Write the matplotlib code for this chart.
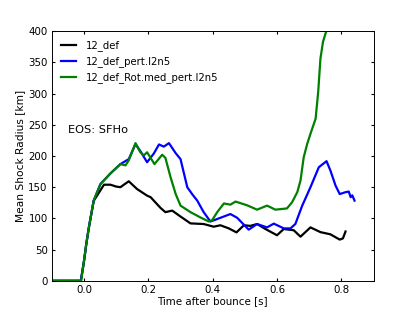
import matplotlib
matplotlib.use("Agg")
import matplotlib.pyplot as plt

plt.rcParams.update({
    "font.family": "DejaVu Sans",
    "font.size": 7.4,
    "xtick.direction": "in",
    "ytick.direction": "in",
    "xtick.top": True,
    "ytick.right": True,
    "xtick.major.size": 2.2,
    "ytick.major.size": 2.2,
    "xtick.major.pad": 3,
    "ytick.major.pad": 3,
    "axes.linewidth": 0.7,
})

# ─── Data ──────────────────────────────────────────────────────────────────────

t_def = [-0.10, -0.01, 0.000, 0.007, 0.015, 0.030, 0.051, 0.062, 0.082, 0.100,
         0.113, 0.139, 0.165, 0.196, 0.207, 0.238, 0.253, 0.274, 0.300, 0.331,
         0.372, 0.403, 0.424, 0.450, 0.474, 0.497, 0.517, 0.538, 0.564, 0.600,
         0.621, 0.652, 0.673, 0.704, 0.735, 0.766, 0.795, 0.805, 0.813]
r_def = [0, 0, 32, 59, 85, 128, 145, 154, 154, 151,
         150, 159.5, 147, 136.5, 134, 116.7, 110, 112.5, 103, 92,
         91, 86.7, 89, 84, 77.6, 89, 88, 91, 83, 73,
         83, 81, 70.7, 85.6, 78, 74.5, 66, 68, 79]

t_pert = [-0.10, -0.01, 0.000, 0.007, 0.015, 0.030, 0.051, 0.082, 0.113, 0.139,
          0.160, 0.175, 0.196, 0.217, 0.233, 0.248, 0.264, 0.285, 0.300, 0.321,
          0.336, 0.352, 0.372, 0.393, 0.414, 0.455, 0.476, 0.512, 0.538, 0.569,
          0.590, 0.621, 0.642, 0.657, 0.678, 0.704, 0.730, 0.754, 0.766, 0.782,
          0.795, 0.813, 0.823, 0.829, 0.834, 0.841]
r_pert = [0, 0, 32, 59, 85.6, 128.5, 155, 172, 187, 195,
          219, 208, 190, 204, 218.5, 215, 220.6, 204.5, 195, 150,
          139, 128.5, 110, 95, 99, 107, 101, 82, 91, 85.6,
          91.6, 84, 84, 91, 120, 150, 182, 191.7, 176.7, 152.6,
          139, 142, 143, 134, 137, 128.5]

t_rot = [-0.10, -0.009, 0.000, 0.007, 0.015, 0.030, 0.051, 0.082, 0.113, 0.129,
         0.139, 0.160, 0.175, 0.186, 0.196, 0.219, 0.243, 0.253, 0.269, 0.285,
         0.300, 0.331, 0.362, 0.388, 0.398, 0.414, 0.435, 0.455, 0.471, 0.507,
         0.538, 0.569, 0.595, 0.631, 0.647, 0.663, 0.673, 0.683, 0.694, 0.704,
         0.720, 0.728, 0.735, 0.743, 0.754, 0.760]
r_rot = [0, 0, 32, 59, 85.6, 128.5, 155, 172, 187, 185,
         193, 220.6, 206, 201, 206, 187, 202, 197, 166, 139,
         120.5, 110, 101.5, 95, 97, 110, 124, 122, 127, 121,
         114, 120.5, 114, 116, 126, 142, 160.6, 198, 219.6, 235.6,
         259.7, 302.5, 356, 383, 401.6, 420]

SERIES = [
    ("12_def", t_def, r_def, "black"),
    ("12_def_pert.l2n5", t_pert, r_pert, "blue"),
    ("12_def_Rot.med_pert.l2n5", t_rot, r_rot, "green"),
]

# ─── Plot ─────────────────────────────────────────────────────────────────────

fig = plt.figure(figsize=(4.15, 3.12), dpi=100)
ax = fig.add_axes([0.125, 0.1, 0.775, 0.8])

for label, t, r, color in SERIES:
    ax.plot(t, r, color=color, lw=1.6, label=label)

ax.text(-0.05, 241, "EOS: SFHo", fontsize=8.2, ha="left", va="center")

ax.set_xlim(-0.1, 0.9)
ax.set_ylim(0, 400)
ax.set_xticks([0.0, 0.2, 0.4, 0.6, 0.8])
ax.set_yticks(range(0, 401, 50))
ax.set_xlabel("Time after bounce [s]", labelpad=1)
ax.set_ylabel("Mean Shock Radius [km]", fontsize=7.7, labelpad=2)

ax.legend(loc="upper left", frameon=False, fontsize=7.3, handlelength=1.5,
          handletextpad=1.0, borderaxespad=0.5, labelspacing=0.5)

fig.savefig("out.png", dpi=100, facecolor="white")
